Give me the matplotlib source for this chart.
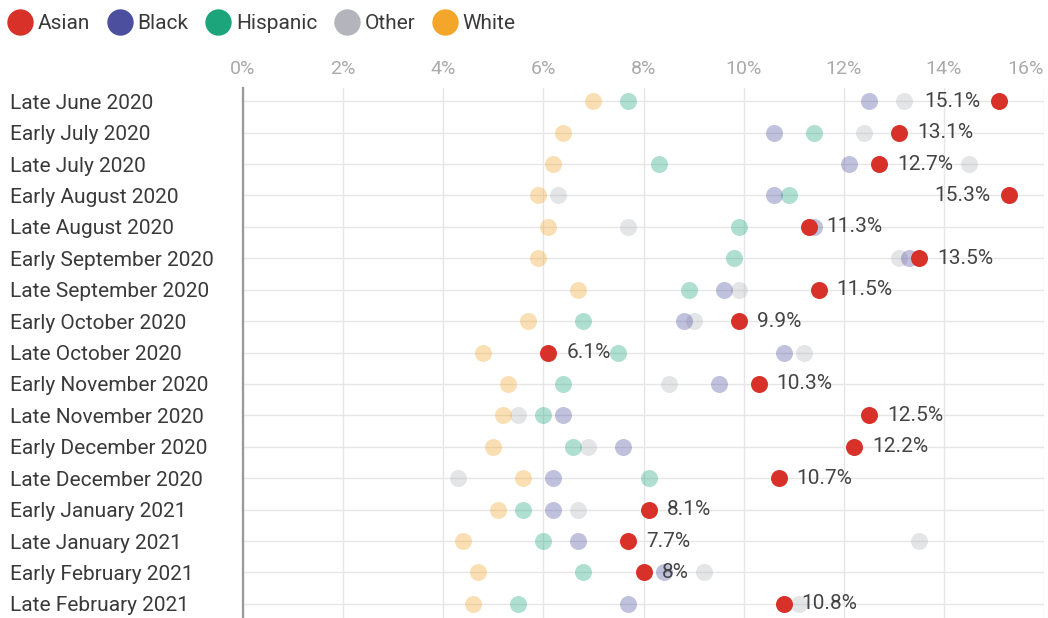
""" dot plot of rates by group """

import matplotlib
matplotlib.use("Agg")
from matplotlib import pyplot as plt
from matplotlib.lines import Line2D

plt.rcParams['font.family'] = ['Roboto', 'DejaVu Sans']

PERIODS = [
    "Late June 2020", "Early July 2020", "Late July 2020", "Early August 2020",
    "Late August 2020", "Early September 2020", "Late September 2020",
    "Early October 2020", "Late October 2020", "Early November 2020",
    "Late November 2020", "Early December 2020", "Late December 2020",
    "Early January 2021", "Late January 2021", "Early February 2021",
    "Late February 2021",
]

asian = [15.1, 13.1, 12.7, 15.3, 11.3, 13.5, 11.5, 9.9, 6.1, 10.3, 12.5, 12.2, 10.7, 8.1, 7.7, 8.0, 10.8]
black = [12.5, 10.6, 12.1, 10.6, 11.4, 13.3, 9.6, 8.8, 10.8, 9.5, 6.4, 7.6, 6.2, 6.2, 6.7, 8.4, 7.7]
hispanic = [7.7, 11.4, 8.3, 10.9, 9.9, 9.8, 8.9, 6.8, 7.5, 6.4, 6.0, 6.6, 8.1, 5.6, 6.0, 6.8, 5.5]
other = [13.2, 12.4, 14.5, 6.3, 7.7, 13.1, 9.9, 9.0, 11.2, 8.5, 5.5, 6.9, 4.3, 6.7, 13.5, 9.2, 11.1]
white = [7.0, 6.4, 6.2, 5.9, 6.1, 5.9, 6.7, 5.7, 4.8, 5.3, 5.2, 5.0, 5.6, 5.1, 4.4, 4.7, 4.6]

GROUPS = ["Asian", "Black", "Hispanic", "Other", "White"]
COLORS = {
    "Asian": "#d8312a",
    "Black": "#4b4f9e",
    "Hispanic": "#1ca57a",
    "Other": "#b4b5bc",
    "White": "#f4a62a",
}
XTICKS = [0, 2, 4, 6, 8, 10, 12, 14, 16]


def main():
    """ main """
    fig = plt.figure(figsize=(10.48, 6.18), dpi=100)
    ax = fig.add_axes([243 / 1048, 0, 801 / 1048, 1 - 88 / 618])

    rows = list(range(len(PERIODS)))
    faded = {"Black": black, "Hispanic": hispanic, "Other": other, "White": white}

    # faded groups first, Asian on top
    for name in ["Other", "Black", "Hispanic", "White"]:
        ax.scatter(faded[name], rows, s=150, color=COLORS[name], alpha=0.35,
                   linewidths=0, zorder=3)
    ax.scatter(asian, rows, s=150, color=COLORS["Asian"], linewidths=0, zorder=4)

    for row, val in zip(rows, asian):
        label = f"{val:g}%"
        if val > 15:
            ax.annotate(label, (val, row), xytext=(-13, 0), textcoords="offset points",
                        ha="right", va="center", fontsize=15, color="#444444", zorder=5)
        else:
            ax.annotate(label, (val, row), xytext=(13, 0), textcoords="offset points",
                        ha="left", va="center", fontsize=15, color="#444444", zorder=5)

    ax.set_xlim(0, 16)
    ax.set_ylim(16.45, -0.42)
    ax.set_xticks(XTICKS)
    ax.set_xticklabels([f"{t}%" for t in XTICKS])
    ax.xaxis.tick_top()
    ax.tick_params(axis="x", length=0, pad=7, labelsize=14, labelcolor="#aaaaaa")
    ax.get_xticklabels()[-1].set_horizontalalignment("right")
    ax.set_yticks(rows)
    ax.set_yticklabels(PERIODS)
    # left-aligned labels starting about 10px from the figure edge
    ax.tick_params(axis="y", length=0, pad=(243 - 10) * 0.72, labelsize=15,
                   labelcolor="#3a3a3a")
    for lbl in ax.get_yticklabels():
        lbl.set_horizontalalignment("left")

    ax.grid(True, color="#e6e6e6", linewidth=1)
    ax.set_axisbelow(True)
    for side in ["top", "right", "bottom"]:
        ax.spines[side].set_visible(False)
    ax.spines["left"].set_color("#999999")
    ax.spines["left"].set_linewidth(1.6)
    ax.spines["left"].set_zorder(2)

    handles = [Line2D([], [], marker="o", linestyle="", markersize=19,
                      markerfacecolor=COLORS[g], markeredgewidth=0) for g in GROUPS]
    fig.legend(handles, GROUPS, loc="upper left", bbox_to_anchor=(0.0, 1 - 10 / 618), ncol=5,
               frameon=False, fontsize=15, handletextpad=0.1, columnspacing=0.65,
               handlelength=1.52, borderaxespad=0, borderpad=0.2, labelcolor="#3a3a3a")

    fig.savefig("out.png", dpi=100)


main()
